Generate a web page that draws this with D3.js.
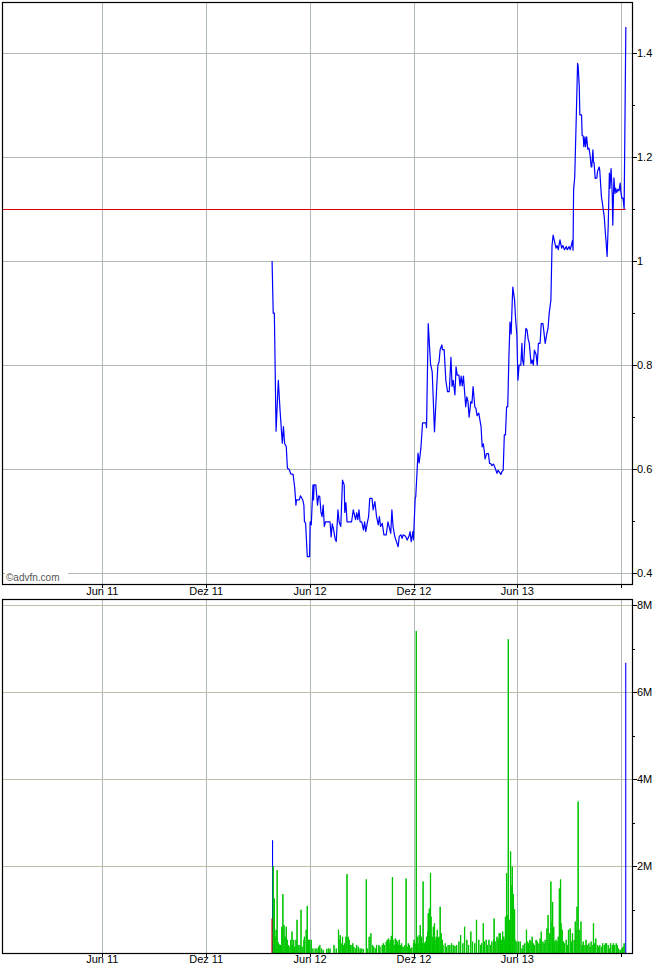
<!DOCTYPE html>
<html><head><meta charset="utf-8">
<script src="https://cdn.jsdelivr.net/npm/d3@7"></script>
<style>
body{margin:0;background:#fff}
svg{display:block}
text{font-family:"Liberation Sans",Arial,sans-serif;font-size:11px;fill:#000}
</style>
</head><body>
<svg id="chart" width="670" height="970"></svg>
<script>
// ---------------- DATA ----------------
const priceDates = ["2012-03-26","2012-03-28","2012-03-30","2012-04-02","2012-04-06","2012-04-09","2012-04-13","2012-04-15","2012-04-17","2012-04-20","2012-04-22","2012-04-25","2012-04-28","2012-05-02","2012-05-05","2012-05-07","2012-05-08","2012-05-13","2012-05-15","2012-05-19","2012-05-21","2012-05-22","2012-05-24","2012-05-27","2012-05-31","2012-06-01","2012-06-03","2012-06-06","2012-06-07","2012-06-08","2012-06-11","2012-06-14","2012-06-16","2012-06-18","2012-06-20","2012-06-22","2012-06-24","2012-06-26","2012-06-28","2012-07-06","2012-07-08","2012-07-10","2012-07-12","2012-07-15","2012-07-17","2012-07-20","2012-07-22","2012-07-25","2012-07-28","2012-07-31","2012-08-01","2012-08-03","2012-08-05","2012-08-13","2012-08-16","2012-08-20","2012-08-22","2012-08-24","2012-08-26","2012-08-28","2012-08-31","2012-09-03","2012-09-05","2012-09-07","2012-09-10","2012-09-12","2012-09-14","2012-09-18","2012-09-20","2012-09-23","2012-09-26","2012-09-29","2012-10-01","2012-10-03","2012-10-06","2012-10-09","2012-10-13","2012-10-16","2012-10-18","2012-10-21","2012-10-23","2012-10-25","2012-10-28","2012-10-31","2012-11-03","2012-11-05","2012-11-08","2012-11-10","2012-11-12","2012-11-16","2012-11-19","2012-11-22","2012-11-24","2012-11-26","2012-11-29","2012-11-30","2012-12-03","2012-12-04","2012-12-08","2012-12-10","2012-12-13","2012-12-16","2012-12-22","2012-12-23","2012-12-26","2012-12-30","2013-01-02","2013-01-06","2013-01-10","2013-01-12","2013-01-14","2013-01-16","2013-01-19","2013-01-20","2013-01-23","2013-01-26","2013-01-29","2013-02-01","2013-02-04","2013-02-06","2013-02-08","2013-02-11","2013-02-13","2013-02-15","2013-02-18","2013-02-20","2013-02-22","2013-02-24","2013-02-26","2013-02-28","2013-03-02","2013-03-04","2013-03-06","2013-03-08","2013-03-11","2013-03-13","2013-03-15","2013-03-18","2013-03-20","2013-03-22","2013-03-25","2013-03-27","2013-03-29","2013-03-31","2013-04-02","2013-04-04","2013-04-05","2013-04-08","2013-04-11","2013-04-13","2013-04-15","2013-04-17","2013-04-20","2013-04-23","2013-04-26","2013-04-28","2013-04-30","2013-05-03","2013-05-05","2013-05-07","2013-05-09","2013-05-11","2013-05-13","2013-05-15","2013-05-17","2013-05-19","2013-05-21","2013-05-23","2013-05-24","2013-05-27","2013-05-29","2013-05-31","2013-06-02","2013-06-04","2013-06-07","2013-06-09","2013-06-10","2013-06-12","2013-06-14","2013-06-16","2013-06-18","2013-06-20","2013-06-22","2013-06-25","2013-06-27","2013-06-29","2013-07-01","2013-07-04","2013-07-06","2013-07-08","2013-07-11","2013-07-13","2013-07-16","2013-07-18","2013-07-20","2013-07-23","2013-07-25","2013-07-27","2013-07-30","2013-08-01","2013-08-03","2013-08-05","2013-08-08","2013-08-10","2013-08-12","2013-08-15","2013-08-18","2013-08-20","2013-08-23","2013-08-26","2013-08-28","2013-08-31","2013-09-02","2013-09-04","2013-09-06","2013-09-07","2013-09-08","2013-09-10","2013-09-13","2013-09-15","2013-09-16","2013-09-18","2013-09-19","2013-09-22","2013-09-23","2013-09-25","2013-09-26","2013-09-28","2013-09-29","2013-10-01","2013-10-03","2013-10-05","2013-10-07","2013-10-09","2013-10-10","2013-10-12","2013-10-13","2013-10-14","2013-10-16","2013-10-19","2013-10-20","2013-10-23","2013-10-24","2013-10-27","2013-10-28","2013-10-30","2013-11-01","2013-11-03","2013-11-04","2013-11-06","2013-11-08","2013-11-10","2013-11-11","2013-11-13","2013-11-15","2013-11-16","2013-11-18","2013-11-20","2013-11-21","2013-11-23","2013-11-25","2013-11-27","2013-11-29","2013-11-30","2013-12-02","2013-12-04","2013-12-06","2013-12-09"];
const priceValues = [1.00,0.90,0.90,0.673,0.771,0.714,0.65,0.682,0.65,0.643,0.602,0.60,0.591,0.59,0.563,0.531,0.541,0.541,0.549,0.541,0.531,0.499,0.497,0.432,0.432,0.499,0.493,0.570,0.541,0.570,0.570,0.531,0.549,0.547,0.518,0.509,0.531,0.490,0.499,0.499,0.470,0.495,0.486,0.466,0.461,0.522,0.499,0.490,0.579,0.570,0.517,0.536,0.499,0.499,0.522,0.503,0.516,0.503,0.522,0.499,0.499,0.483,0.499,0.480,0.499,0.509,0.544,0.544,0.522,0.538,0.509,0.493,0.509,0.490,0.496,0.474,0.474,0.499,0.490,0.477,0.522,0.490,0.471,0.461,0.451,0.471,0.474,0.467,0.474,0.471,0.464,0.471,0.480,0.461,0.480,0.464,0.544,0.547,0.631,0.612,0.640,0.689,0.689,0.680,0.880,0.803,0.787,0.672,0.760,0.800,0.806,0.830,0.839,0.830,0.830,0.771,0.749,0.749,0.815,0.759,0.771,0.743,0.797,0.781,0.781,0.760,0.779,0.760,0.779,0.749,0.720,0.739,0.730,0.700,0.730,0.727,0.759,0.720,0.717,0.703,0.708,0.695,0.682,0.643,0.649,0.633,0.620,0.630,0.630,0.611,0.611,0.607,0.610,0.602,0.592,0.598,0.595,0.590,0.596,0.598,0.666,0.666,0.720,0.720,0.813,0.883,0.860,0.925,0.950,0.925,0.887,0.860,0.771,0.800,0.800,0.842,0.810,0.800,0.842,0.871,0.868,0.850,0.842,0.803,0.810,0.800,0.829,0.820,0.800,0.842,0.842,0.880,0.880,0.861,0.842,0.861,0.871,0.900,0.925,1.030,1.050,1.040,1.025,1.030,1.022,1.041,1.025,1.030,1.022,1.028,1.022,1.028,1.022,1.030,1.040,1.021,1.137,1.162,1.290,1.380,1.375,1.335,1.281,1.281,1.242,1.240,1.220,1.239,1.220,1.239,1.215,1.217,1.204,1.181,1.181,1.214,1.190,1.190,1.159,1.160,1.172,1.181,1.175,1.124,1.117,1.101,1.085,1.053,1.040,1.009,1.070,1.169,1.140,1.178,1.130,1.069,1.160,1.130,1.140,1.132,1.138,1.135,1.150,1.135,1.121,1.121,1.101,1.450];

const volumeDates = ["2012-03-27","2012-03-28","2012-03-26","2012-03-30","2012-04-01","2012-04-02","2012-04-04","2012-04-06","2012-04-08","2012-04-10","2012-04-12","2012-04-14","2012-04-16","2012-04-18","2012-04-20","2012-04-22","2012-04-24","2012-04-25","2012-04-28","2012-04-30","2012-05-01","2012-05-03","2012-05-05","2012-05-07","2012-05-09","2012-05-11","2012-05-14","2012-05-16","2012-05-18","2012-05-21","2012-05-22","2012-05-25","2012-05-27","2012-05-29","2012-05-31","2012-06-03","2012-06-06","2012-06-10","2012-06-13","2012-06-16","2012-06-18","2012-06-21","2012-06-24","2012-06-30","2012-07-03","2012-07-06","2012-07-13","2012-07-17","2012-07-21","2012-07-22","2012-07-24","2012-07-27","2012-07-28","2012-07-30","2012-08-01","2012-08-03","2012-08-05","2012-08-07","2012-08-09","2012-08-11","2012-08-12","2012-08-15","2012-08-17","2012-08-20","2012-08-22","2012-08-25","2012-08-28","2012-08-31","2012-09-03","2012-09-08","2012-09-10","2012-09-13","2012-09-16","2012-09-19","2012-09-21","2012-09-24","2012-09-26","2012-09-30","2012-10-02","2012-10-06","2012-10-08","2012-10-10","2012-10-13","2012-10-15","2012-10-17","2012-10-18","2012-10-20","2012-10-22","2012-10-24","2012-10-25","2012-10-27","2012-10-29","2012-10-31","2012-11-02","2012-11-03","2012-11-05","2012-11-07","2012-11-09","2012-11-10","2012-11-13","2012-11-15","2012-11-17","2012-11-19","2012-11-21","2012-11-23","2012-11-25","2012-11-27","2012-11-30","2012-12-01","2012-12-03","2012-12-05","2012-12-07","2012-12-08","2012-12-10","2012-12-12","2012-12-14","2012-12-16","2012-12-17","2012-12-19","2012-12-21","2012-12-23","2012-12-25","2012-12-26","2012-12-28","2012-12-30","2012-12-31","2013-01-02","2013-01-04","2013-01-06","2013-01-07","2013-01-09","2013-01-11","2013-01-13","2013-01-14","2013-01-16","2013-01-18","2013-01-20","2013-01-21","2013-01-25","2013-01-27","2013-01-30","2013-02-02","2013-02-05","2013-02-08","2013-02-11","2013-02-14","2013-02-18","2013-02-21","2013-02-25","2013-02-28","2013-03-04","2013-03-07","2013-03-11","2013-03-14","2013-03-18","2013-03-21","2013-03-25","2013-03-28","2013-03-30","2013-04-02","2013-04-04","2013-04-07","2013-04-09","2013-04-12","2013-04-15","2013-04-17","2013-04-20","2013-04-21","2013-04-23","2013-04-26","2013-04-28","2013-04-30","2013-05-02","2013-05-04","2013-05-06","2013-05-08","2013-05-10","2013-05-11","2013-05-13","2013-05-14","2013-05-16","2013-05-18","2013-05-20","2013-05-21","2013-05-23","2013-05-25","2013-05-27","2013-05-28","2013-05-31","2013-06-03","2013-06-06","2013-06-09","2013-06-11","2013-06-14","2013-06-17","2013-06-19","2013-06-21","2013-06-23","2013-06-25","2013-06-27","2013-06-29","2013-07-01","2013-07-04","2013-07-06","2013-07-09","2013-07-11","2013-07-13","2013-07-16","2013-07-18","2013-07-20","2013-07-23","2013-07-25","2013-07-26","2013-07-28","2013-07-30","2013-08-01","2013-08-02","2013-08-04","2013-08-06","2013-08-08","2013-08-10","2013-08-12","2013-08-14","2013-08-16","2013-08-17","2013-08-19","2013-08-21","2013-08-23","2013-08-26","2013-08-28","2013-08-30","2013-09-02","2013-09-04","2013-09-06","2013-09-09","2013-09-11","2013-09-12","2013-09-14","2013-09-16","2013-09-18","2013-09-21","2013-09-23","2013-09-25","2013-09-28","2013-09-30","2013-10-02","2013-10-05","2013-10-07","2013-10-09","2013-10-12","2013-10-13","2013-10-15","2013-10-17","2013-10-20","2013-10-22","2013-10-24","2013-10-27","2013-10-29","2013-11-01","2013-11-03","2013-11-05","2013-11-08","2013-11-10","2013-11-12","2013-11-15","2013-11-17","2013-11-19","2013-11-22","2013-11-24","2013-11-26","2013-11-29","2013-12-02","2013-12-04","2013-12-06","2013-12-09"];
// millions of shares
const volumeValues = [2.6,2.0,0.8,1.26,0.38,0.54,1.91,0.25,0.20,0.19,0.61,1.36,0.65,0.38,0.61,0.31,0.19,0.15,0.31,0.50,0.19,0.31,0.15,0.31,0.77,0.19,0.19,1.00,0.15,0.31,0.38,0.54,1.09,0.31,0.31,0.31,0.11,0.11,0.11,0.15,0.19,0.11,0.08,0.10,0.11,0.11,0.19,0.11,0.54,0.31,0.42,0.23,0.38,0.19,0.23,0.38,1.82,0.38,0.31,0.19,0.19,0.23,0.15,0.11,0.19,0.15,0.11,0.11,0.10,1.70,0.11,0.38,0.46,0.19,0.15,0.11,0.19,0.19,0.15,0.19,0.23,0.19,0.27,0.31,0.34,0.23,0.31,0.40,1.75,0.31,0.19,0.34,0.31,0.27,0.19,0.31,0.19,0.23,0.15,0.15,0.19,1.72,0.15,0.23,0.19,0.11,0.13,0.23,0.31,0.23,7.41,0.38,0.23,0.42,0.65,0.38,0.23,1.65,0.23,0.27,0.38,0.50,0.92,1.03,1.85,0.84,0.38,0.61,0.69,0.31,0.38,0.54,0.34,0.38,1.07,0.46,0.31,0.19,0.23,0.15,0.19,0.19,0.23,0.19,0.17,0.19,0.27,0.42,0.23,0.61,0.31,0.19,0.50,0.27,0.23,0.77,0.31,0.19,0.23,0.69,0.27,0.31,0.19,0.31,0.19,0.27,0.31,0.80,0.27,0.38,0.34,0.46,0.46,0.31,0.50,0.38,0.31,0.84,1.84,0.88,7.22,0.77,2.34,1.57,1.99,1.36,1.01,0.31,0.27,0.27,0.27,0.11,0.19,0.23,0.54,0.27,0.23,0.31,0.27,0.38,0.23,0.19,0.31,0.27,0.23,0.34,0.50,0.27,0.23,0.31,0.57,0.88,0.23,0.46,1.65,0.73,1.18,0.61,0.27,0.31,0.27,0.38,1.49,1.70,0.69,0.54,0.27,0.23,0.31,0.19,0.54,0.57,0.27,0.46,0.31,0.73,0.54,1.07,3.49,0.54,0.73,0.19,0.27,0.19,0.31,0.19,0.23,0.15,0.27,0.19,0.69,0.23,0.34,0.19,0.15,0.19,0.15,0.23,0.19,0.23,0.23,0.19,0.11,0.23,0.19,0.23,0.19,0.23,0.19,0.11,0.08,0.11,0.15,0.23,6.68];
// bars that are not green: r = red, b = blue
const volumeSpecialDates = ["2012-03-26","2012-03-27","2013-12-09"];
const volumeSpecialKinds = ["r","b","b"];

const xTickDates = ["2011-06-01","2011-12-01","2012-06-01","2012-12-01","2013-06-01","2013-12-01"];
const xTickLabels = ["Jun 11","Dez 11","Jun 12","Dez 12","Jun 13",""];
const priceTicks = [0.4,0.6,0.8,1,1.2,1.4];
const priceTickLabels = ["0.4","0.6","0.8","1","1.2","1.4"];
const priceMinorTicks = [0.5,0.7,0.9,1.1,1.3];
const volumeTicks = [2,4,6,8];
const volumeTickLabels = ["2M","4M","6M","8M"];
const volumeMinorTicks = [1,3,5,7];
const referencePrice = 1.1;

// ---------------- LAYOUT ----------------
const parse = d3.utcParse("%Y-%m-%d");
const svg = d3.select("#chart");
const L = 2, R = 632;
const top1 = 2, bot1 = 584;
const top2 = 599, bot2 = 953;
const px = v => Math.round(v) + 0.5;

const x = d3.scaleUtc()
  .domain([parse("2011-06-01"), parse("2013-12-01")])
  .range([102.3, 621.3]);
const yP = d3.scaleLinear().domain([0.4, 1.4]).range([573.3, 53]);
const yV = d3.scaleLinear().domain([0, 8]).range([953.3, 605.3]);

const defs = svg.append("defs");
defs.append("clipPath").attr("id","c1").append("rect")
  .attr("x",L).attr("y",top1).attr("width",R-L).attr("height",bot1-top1);
defs.append("clipPath").attr("id","c2").append("rect")
  .attr("x",L).attr("y",top2).attr("width",R-L).attr("height",bot2-top2);
const pat = defs.append("pattern").attr("id","gpat").attr("patternUnits","userSpaceOnUse")
  .attr("width",2).attr("height",2);
pat.append("rect").attr("width",2).attr("height",2).attr("fill","#00cc00");
pat.append("rect").attr("x",0).attr("y",0).attr("width",1).attr("height",1).attr("fill","#009000");

const gridCol = "#b0baba";
const tickDates = xTickDates.map(parse);

function panelGrid(yTop, yBot, yScale, ticks, col) {
  const g = svg.append("g");
  g.selectAll("line.v").data(tickDates).join("line")
    .attr("x1", d => px(x(d))).attr("x2", d => px(x(d)))
    .attr("y1", yTop).attr("y2", yBot)
    .attr("stroke", gridCol).attr("stroke-width",1);
  g.selectAll("line.h").data(ticks).join("line")
    .attr("x1", L).attr("x2", R)
    .attr("y1", d => px(yScale(d))).attr("y2", d => px(yScale(d)))
    .attr("stroke", col).attr("stroke-width",1);
}
panelGrid(top1, bot1, yP, priceTicks, gridCol);
panelGrid(top2, bot2, yV, volumeTicks, "#bcc0a8");

// reference line
const lastDate = parse(priceDates[priceDates.length-1]);
svg.append("line")
  .attr("x1", L).attr("x2", x(lastDate))
  .attr("y1", px(yP(referencePrice))).attr("y2", px(yP(referencePrice)))
  .attr("stroke","#e00000").attr("stroke-width",1);

// price line
const priceData = priceDates.map((d,i) => ({date: parse(d), v: priceValues[i]}));
svg.append("path").datum(priceData)
  .attr("clip-path","url(#c1)")
  .attr("fill","none").attr("stroke","#0000ff").attr("stroke-width",1.2)
  .attr("stroke-linejoin","round")
  .attr("d", d3.line().x(d => x(d.date)).y(d => yP(d.v)));

// volume bars
const special = new Map(volumeSpecialDates.map((d,i) => [d, volumeSpecialKinds[i]]));
const volData = volumeDates.map((d,i) => ({key:d, date: parse(d), v: volumeValues[i], k: special.get(d) || "g"}))
  .sort((a,b) => b.v - a.v);
const colorOf = k => k === "r" ? "#e00000" : k === "b" ? "#0000ff" : "url(#gpat)";
const bw = 1.3;
svg.append("g").attr("clip-path","url(#c2)")
  .selectAll("rect").data(volData).join("rect")
  .attr("x", d => x(d.date) - bw/2)
  .attr("width", d => d.k === "g" ? bw : 1.1)
  .attr("y", d => yV(d.v))
  .attr("height", d => yV(0) - yV(d.v))
  .attr("fill", d => colorOf(d.k));
// bright green core line for each green bar
svg.append("g").attr("clip-path","url(#c2)")
  .selectAll("line").data(volData.filter(d => d.k === "g")).join("line")
  .attr("x1", d => x(d.date)).attr("x2", d => x(d.date))
  .attr("y1", d => yV(d.v)).attr("y2", d => yV(0))
  .attr("stroke","#00cc00").attr("stroke-width",0.8);

// frames
[[top1,bot1],[top2,bot2]].forEach(([t,b]) => {
  svg.append("rect").attr("x",L+0.5).attr("y",t+0.5).attr("width",R-L).attr("height",b-t)
    .attr("fill","none").attr("stroke","#000").attr("stroke-width",1.2);
});

// right axes
function rightAxis(scale, ticks, labels, minor) {
  const g = svg.append("g");
  g.selectAll("line.mj").data(ticks).join("line")
    .attr("x1", R).attr("x2", R+5)
    .attr("y1", d => px(scale(d))).attr("y2", d => px(scale(d)))
    .attr("stroke","#000");
  g.selectAll("line.mn").data(minor).join("line")
    .attr("x1", R).attr("x2", R+3)
    .attr("y1", d => px(scale(d))).attr("y2", d => px(scale(d)))
    .attr("stroke","#000");
  g.selectAll("text").data(ticks).join("text")
    .attr("x", R+5).attr("y", d => scale(d)).attr("dy","0.35em")
    .text((d,i) => labels[i]);
}
rightAxis(yP, priceTicks, priceTickLabels, priceMinorTicks);
rightAxis(yV, volumeTicks, volumeTickLabels, volumeMinorTicks);

// bottom axes
function bottomAxis(yb, ty) {
  const g = svg.append("g");
  g.selectAll("line").data(tickDates).join("line")
    .attr("x1", d => px(x(d))).attr("x2", d => px(x(d)))
    .attr("y1", yb).attr("y2", yb+4).attr("stroke","#000");
  g.selectAll("text").data(tickDates).join("text")
    .attr("x", d => x(d)).attr("y", ty).attr("text-anchor","middle")
    .text((d,i) => xTickLabels[i]);
}
bottomAxis(bot1, 595);
bottomAxis(bot2, 963);

// watermark
svg.append("rect").attr("x",5).attr("y",571).attr("width",63).attr("height",11).attr("fill","#fff");
svg.append("text").attr("x",6).attr("y",581).style("font-size","10px").style("fill","#555")
  .text("©advfn.com");
</script>
</body></html>
